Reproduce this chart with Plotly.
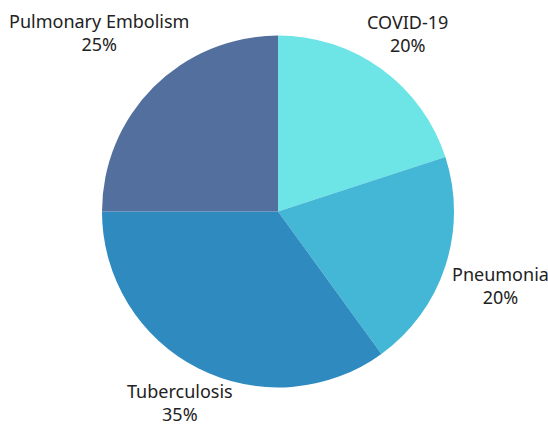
import plotly.graph_objects as go

labels = ["COVID-19", "Pneumonia", "Tuberculosis", "Pulmonary Embolism"]
values = [20, 20, 35, 25]
colors = ["#6de4e5", "#43b7d5", "#2f8abf", "#536f9e"]

# label anchor positions in pixels (layout only)
label_px = [(407, 34), (500, 285), (179.5, 402), (98.5, 32.5)]

W, H = 548, 427
fig = go.Figure(go.Pie(
    labels=labels,
    values=values,
    sort=False,
    direction="clockwise",
    rotation=0,
    marker=dict(colors=colors, line=dict(width=0)),
    textinfo="none",
    showlegend=False,
    domain=dict(x=[(278 - 176) / W, (278 + 176) / W],
                y=[1 - (211.5 + 176) / H, 1 - (211.5 - 176) / H]),
    hoverinfo="label+percent",
))

total = sum(values)
for lab, val, (px, py) in zip(labels, values, label_px):
    fig.add_annotation(
        x=px / W, y=1 - py / H, xref="paper", yref="paper",
        text=f"{lab}<br>{round(100 * val / total)}%",
        showarrow=False, xanchor="center", yanchor="middle",
        align="center", borderpad=0,
        font=dict(family="Noto Sans", size=18, color="#222222"),
    )

fig.update_layout(
    width=W, height=H,
    margin=dict(l=0, r=0, t=0, b=0),
    paper_bgcolor="white",
    plot_bgcolor="white",
)

fig.write_html("out.html")
